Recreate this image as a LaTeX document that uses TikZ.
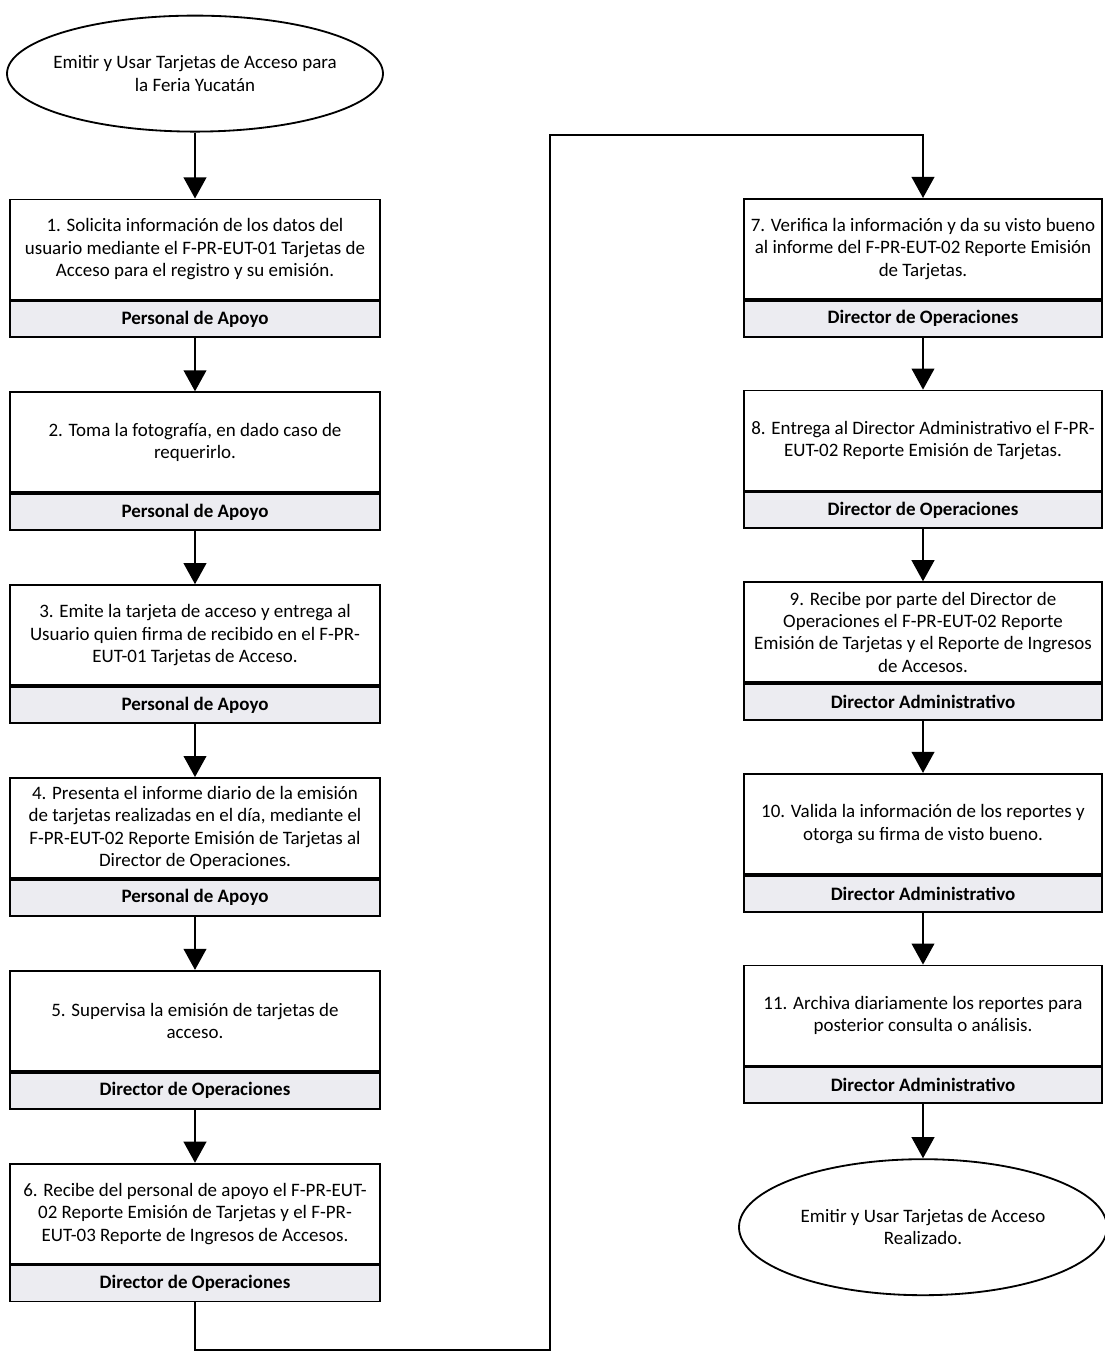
\documentclass[tikz,border=0pt]{standalone}
\usepackage{fontspec}
\setmainfont{Carlito}
\usepackage{tikz}
\usetikzlibrary{shapes.geometric, arrows.meta, positioning}
\definecolor{bandgray}{RGB}{236,236,241}
\tikzset{
	terminal/.style={
		ellipse, 
		minimum width=9.4cm, 
		minimum height=2.9cm, 
		inner xsep=-0.3cm,
		inner ysep=0pt,
		align=center, 
		draw=black, 
		line width=1.3pt,
		fill=white,
		font=\fontsize{13.5}{16}\selectfont
	},
	stepbox/.style={
		rectangle, 
		minimum width=9.25cm, 
		minimum height=2.5cm, 
		inner sep=1pt,
		align=center, 
		draw=black, 
		line width=1.3pt,
		fill=white,
		font=\fontsize{13.5}{16}\selectfont
	},
	rolebox/.style={
		rectangle, 
		minimum width=9.25cm, 
		minimum height=0.9cm, 
		inner sep=1pt,
		align=center, 
		draw=black, 
		line width=1.3pt,
		fill=bandgray,
		font=\fontsize{13.5}{16}\selectfont\bfseries
	},
	rightcol/.style={minimum width=8.95cm},
	arrow/.style={line width=1.8pt,-{Triangle[width=16pt,length=15pt]}}
}

\begin{document}
\begin{tikzpicture}[node distance=1.33cm]
	\path[use as bounding box, fill=white] (0,0) rectangle (27.625,-33.875);

	% Columna izquierda
	\node (inicio) [terminal] at (4.875,-1.84) {Emitir y Usar Tarjetas de Acceso para\\la Feria Yucatán};
	\node (paso1) [stepbox, below=1.65cm of inicio] {1. Solicita información de los datos del\\usuario mediante el F-PR-EUT-01 Tarjetas de\\Acceso para el registro y su emisión.};
	\node (rol1) [rolebox, below=0pt of paso1] {Personal de Apoyo};
	\node (paso2) [stepbox, below=of rol1] {2. Toma la fotografía, en dado caso de\\requerirlo.};
	\node (rol2) [rolebox, below=0pt of paso2] {Personal de Apoyo};
	\node (paso3) [stepbox, below=of rol2] {3. Emite la tarjeta de acceso y entrega al\\Usuario quien firma de recibido en el F-PR-\\EUT-01 Tarjetas de Acceso.};
	\node (rol3) [rolebox, below=0pt of paso3] {Personal de Apoyo};
	\node (paso4) [stepbox, below=of rol3] {4. Presenta el informe diario de la emisión\\de tarjetas realizadas en el día, mediante el\\F-PR-EUT-02 Reporte Emisión de Tarjetas al\\Director de Operaciones.};
	\node (rol4) [rolebox, below=0pt of paso4] {Personal de Apoyo};
	\node (paso5) [stepbox, below=of rol4] {5. Supervisa la emisión de tarjetas de\\acceso.};
	\node (rol5) [rolebox, below=0pt of paso5] {Director de Operaciones};
	\node (paso6) [stepbox, below=of rol5] {6. Recibe del personal de apoyo el F-PR-EUT-\\02 Reporte Emisión de Tarjetas y el F-PR-\\EUT-03 Reporte de Ingresos de Accesos.};
	\node (rol6) [rolebox, below=0pt of paso6] {Director de Operaciones};

	% Columna derecha
	\node (paso7) [stepbox, rightcol, anchor=north] at (23.075,-4.95) {7. Verifica la información y da su visto bueno\\al informe del F-PR-EUT-02 Reporte Emisión\\de Tarjetas.};
	\node (rol7) [rolebox, rightcol, below=0pt of paso7] {Director de Operaciones};
	\node (paso8) [stepbox, rightcol, below=1.3cm of rol7] {8. Entrega al Director Administrativo el F-PR-\\EUT-02 Reporte Emisión de Tarjetas.};
	\node (rol8) [rolebox, rightcol, below=0pt of paso8] {Director de Operaciones};
	\node (paso9) [stepbox, rightcol, below=1.3cm of rol8] {9. Recibe por parte del Director de\\Operaciones el F-PR-EUT-02 Reporte\\Emisión de Tarjetas y el Reporte de Ingresos\\de Accesos.};
	\node (rol9) [rolebox, rightcol, below=0pt of paso9] {Director Administrativo};
	\node (paso10) [stepbox, rightcol, below=1.3cm of rol9] {10. Valida la información de los reportes y\\otorga su firma de visto bueno.};
	\node (rol10) [rolebox, rightcol, below=0pt of paso10] {Director Administrativo};
	\node (paso11) [stepbox, rightcol, below=1.3cm of rol10] {11. Archiva diariamente los reportes para\\posterior consulta o análisis.};
	\node (rol11) [rolebox, rightcol, below=0pt of paso11] {Director Administrativo};
	\node (fin) [terminal, minimum width=9.2cm, minimum height=3.4cm, below=1.35cm of rol11] {Emitir y Usar Tarjetas de Acceso\\Realizado.};

	% Cambio de columna
	\coordinate (bajo) at (13.75,-33.75);
	\coordinate (alto) at (13.75,-3.375);

	\draw [arrow] (inicio) -- (paso1);
	\draw [arrow] (rol1) -- (paso2);
	\draw [arrow] (rol2) -- (paso3);
	\draw [arrow] (rol3) -- (paso4);
	\draw [arrow] (rol4) -- (paso5);
	\draw [arrow] (rol5) -- (paso6);
	\draw [arrow] (rol6) |- (bajo) -- (alto) -| (paso7);
	\draw [arrow] (rol7) -- (paso8);
	\draw [arrow] (rol8) -- (paso9);
	\draw [arrow] (rol9) -- (paso10);
	\draw [arrow] (rol10) -- (paso11);
	\draw [arrow] (rol11) -- (fin);
\end{tikzpicture}
\end{document}
